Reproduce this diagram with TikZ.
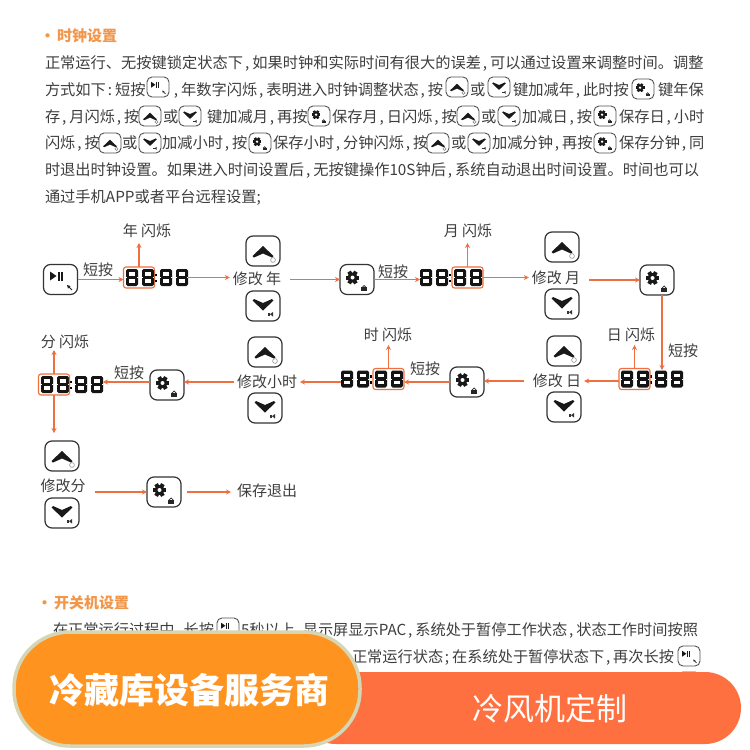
\documentclass[tikz,border=0pt]{standalone}
\usepackage{fontspec}
\setmainfont{Noto Sans CJK SC}
\usetikzlibrary{arrows.meta,calc}
\newcommand{\zc}{\hspace{1.8pt},\hspace{3pt}}
\newcommand{\zs}{\hspace{1.8pt};\hspace{3pt}}
\newcommand{\zm}{\hspace{1.8pt}:\hspace{3pt}}
\definecolor{txt}{HTML}{3E3E3E}
\definecolor{ora}{HTML}{F2964A}
\definecolor{conn}{HTML}{EE7040}
\definecolor{pillA}{HTML}{FF9320}
\definecolor{pillB}{HTML}{FF7040}
\definecolor{pillE}{HTML}{D6D6B4}
\definecolor{keyc}{HTML}{333333}
\tikzset{
  para/.style={inner sep=0pt,outer sep=0pt,text=txt,anchor=west,text height=12.5pt,text depth=1.5pt,font=\fontsize{15.25}{15}\selectfont},
  parb/.style={para,font=\fontsize{15.2}{15}\selectfont},
  head/.style={para,text=ora,font=\fontsize{15}{15}\selectfont\bfseries},
  lab/.style={inner sep=0pt,outer sep=0pt,text=txt,text height=12.5pt,text depth=1.5pt,font=\fontsize{15}{15}\selectfont},
  arr/.style={draw=conn,line width=1.2pt,-{Stealth[length=5pt,width=5pt]}},
  hl/.style={draw=conn,line width=1.1pt,rounded corners=2.5pt,inner sep=0pt,outer sep=0pt,minimum width=31pt,minimum height=21pt},
  dispbox/.style={inner sep=0pt,outer sep=0pt,minimum width=62pt,minimum height=17pt},
  keybig/.style={draw=keyc,line width=1.2pt,rounded corners=7pt,inner sep=0pt,outer sep=0pt,fill=white,minimum width=34pt,minimum height=30pt},
  keysmall/.style={draw=keyc!85,line width=.9pt,rounded corners=5pt,inner sep=0pt,outer sep=0pt,fill=white,minimum width=22pt,minimum height=20pt}
}
\newcommand{\glyphup}{%
  \fill[black!90] (0,-5) -- (10.5,5) -- (9,6.5) -- (0,2.5) -- (-9,6.5) -- (-10.5,5) -- cycle;
  \draw[black!50,line width=.5pt] (10,9) circle (2.4);}
\newcommand{\glyphdown}{%
  \fill[black!90] (-10.5,-5.5) -- (-9,-7) -- (0,-3) -- (9,-7) -- (10.5,-5.5) -- (0,4.5) -- cycle;
  \fill[black!80] (4.5,7) rectangle (7,9.5);
  \fill[black!80] (7,8.2) -- (10,6) -- (10,10.5) -- cycle;}
\newcommand{\glyphset}{%
  \begin{scope}[shift={(-4.5,-2)}]
  \foreach \a in {0,60,120}{\fill[black!90,rotate=\a] (-6.8,-2) rectangle (6.8,2);}
  \fill[black!90] (0,0) circle (5);
  \fill[white] (0,0) circle (2);
  \end{scope}
  \fill[black!85] (4.3,7.8) rectangle (10,11.5);
  \draw[black!85,line width=.7pt] (7.1,7.8) circle (1.9);}
\newcommand{\glyphplay}{%
  \fill[black!90] (-10.5,-8) -- (-4,-3.5) -- (-10.5,1) -- cycle;
  \fill[black!90] (-2.6,-8) rectangle (-.8,1);
  \fill[black!90] (.4,-8) rectangle (2.2,1);
  \fill[black!85] (6.5,5.5) -- (10,6.5) -- (7.5,9) -- cycle;
  \draw[black!85,line width=.8pt] (8.5,7.5) -- (11.5,10.5);}
\newcommand{\keybody}[5]{%
  \node[#5] (#1) at (#2,#3) {};
  \begin{scope}[shift={(#1.center)},scale=\keyscale]
  \csname glyph#4\endcsname
  \end{scope}}
\newcommand{\keyB}[4]{\def\keyscale{1}\keybody{#1}{#2}{#3}{#4}{keybig}}
\newcommand{\keyS}[4]{\def\keyscale{.65}\keybody{#1}{#2}{#3}{#4}{keysmall}}
\newcommand{\digit}[2]{%
  \fill[black!92,rounded corners=1.6pt] (#1,#2) rectangle ++(12,17);
  \fill[white] ($(#1,#2)+(3.4,3.2)$) rectangle ++(5.2,3.6);
  \fill[white] ($(#1,#2)+(3.4,10.2)$) rectangle ++(5.2,3.6);
  \fill[white] ($(#1,#2)+(0,8.1)$) rectangle ++(1.1,.8);
  \fill[white] ($(#1,#2)+(10.9,8.1)$) rectangle ++(1.1,.8);}
\newcommand{\disp}[3]{%
  \node[dispbox,anchor=north west] (#1) at (#2,#3) {};
  \digit{#2}{#3}
  \digit{#2+16}{#3}
  \fill[black] ($(#2,#3)+(28.6,4.5)$) rectangle ++(2.8,2.8);
  \fill[black] ($(#2,#3)+(28.6,10.5)$) rectangle ++(2.8,2.8);
  \digit{#2+34}{#3}
  \digit{#2+50}{#3}}
\begin{document}
\begin{tikzpicture}[x=1pt,y=-1pt]
\useasboundingbox (0,0) rectangle (750,750);
\fill[white] (0,0) rectangle (750,750);
% ---------- heading and paragraph ----------
\node[head] (h1d) at (40,36) {·};
\node[head] (h1) at (57,36) {时钟设置};
\node[para] (l1) at (45,63) {正常运行、无按键锁定状态下\zc{}如果时钟和实际时间有很大的误差\zc{}可以通过设置来调整时间。调整};
% line 2
\node[para] (l2a) at (45,90) {方式如下\zm{}短按};
\keyS{k2a}{158}{87}{play}
\node[para] (l2b) at (172,90) {\zc{}年数字闪烁\zc{}表明进入时钟调整状态\zc{}按};
\keyS{k2b}{457}{87}{up}
\node[para] (l2c) at (470,90) {或};
\keyS{k2c}{499}{87}{down}
\node[para] (l2d) at (513,90) {键加减年\zc{}此时按};
\keyS{k2d}{643}{89}{set}
\node[para] (l2e) at (658,90) {键年保};
% line 3
\node[para] (l3a) at (45,117) {存\zc{}月闪烁\zc{}按};
\keyS{k3a}{150}{116}{up}
\node[para] (l3b) at (163,117) {或};
\keyS{k3b}{190}{116}{down}
\node[para] (l3c) at (207,117) {键加减月\zc{}再按};
\keyS{k3c}{319}{116}{set}
\node[para] (l3d) at (332,117) {保存月\zc{}日闪烁\zc{}按};
\keyS{k3d}{468}{116}{up}
\node[para] (l3e) at (481,117) {或};
\keyS{k3e}{509}{116}{down}
\node[para] (l3f) at (522,117) {加减日\zc{}按};
\keyS{k3f}{605}{116}{set}
\node[para] (l3g) at (619,117) {保存日\zc{}小时};
% line 4
\node[para] (l4a) at (45,143) {闪烁\zc{}按};
\keyS{k4a}{110}{143}{up}
\node[para] (l4b) at (122,143) {或};
\keyS{k4b}{150}{143}{down}
\node[para] (l4c) at (162,143) {加减小时\zc{}按};
\keyS{k4c}{260}{143}{set}
\node[para] (l4d) at (273,143) {保存小时\zc{}分钟闪烁\zc{}按};
\keyS{k4d}{438}{143}{up}
\node[para] (l4e) at (451,143) {或};
\keyS{k4e}{479}{143}{down}
\node[para] (l4f) at (492,143) {加减分钟\zc{}再按};
\keyS{k4f}{605}{143}{set}
\node[para] (l4g) at (619,143) {保存分钟\zc{}同};
\node[para] (l5) at (45,170) {时退出时钟设置。如果进入时间设置后\zc{}无按键操作10S钟后\zc{}系统自动退出时间设置。时间也可以};
\node[para] (l6) at (45,197) {通过手机APP或者平台远程设置;};
% ---------- row 1 ----------
\keyB{play}{60.5}{279.5}{play}
\node[lab] (sa1) at (98,270) {短按};
\node[hl] (h1box) at (139,277.5) {};
\disp{d1}{126}{269}
\node[lab] (ya) at (147,231) {年 闪烁};
\node[lab] (ma) at (257,279) {修改 年};
\keyB{u1}{263}{251}{up}
\keyB{v1}{263}{306}{down}
\keyB{s1}{357}{279.5}{set}
\draw[arr] (play.east) -- (play.east -| h1box.west);
\draw[arr] (h1box.north) -- ([yshift=-5pt]h1box.north |- ya.south);
\draw[arr] (d1.east) -- ([xshift=-3pt]d1.east -| ma.west);
\draw[arr] ([xshift=9pt]ma.east |- s1.west) -- (s1.west);
\node[lab] (sa2) at (393,272) {短按};
\node[hl] (h2box) at (467.5,277.5) {};
\disp{d2}{420}{269}
\node[lab] (yb) at (468,231) {月 闪烁};
\node[lab] (mb) at (556,278) {修改 月};
\keyB{u2}{562}{247}{up}
\keyB{v2}{562}{304}{down}
\keyB{s2}{657}{280}{set}
\draw[arr] (s1.east) -- (s1.east -| d2.west);
\draw[arr] (h2box.north) -- ([yshift=-5pt]h2box.north |- yb.south);
\draw[arr] (h2box.east) -- ([xshift=-3pt]h2box.east -| mb.west);
\draw[arr] ([xshift=9pt]mb.east |- s2.west) -- (s2.west);
% ---------- row 2, right to left ----------
\node[lab] (sa3) at (683,351) {短按};
\disp{d3}{621}{370.5}
\node[hl] (h3box) at (634.5,379) {};
\node[lab] (yc) at (631,335) {日 闪烁};
\node[lab] (mc) at (557,381) {修改 日};
\keyB{u3}{564}{351}{up}
\keyB{v3}{564}{407}{down}
\keyB{s3}{467}{382}{set}
\coordinate (d3top) at (662,370);
\draw[arr] (s2.south -| d3top) -- (d3top);
\draw[arr] (h3box.north) -- ([yshift=-3pt]h3box.north |- yc.south);
\draw[arr] (h3box.west |- mc.east) -- ([xshift=3pt]mc.east);
\draw[arr] ([xshift=-9pt]mc.west) -- (mc.west -| s3.east);
\disp{d4}{341}{370.5}
\node[hl] (h4box) at (388.5,379) {};
\node[lab] (yd) at (388,335) {时 闪烁};
\node[lab] (sa4) at (425,369) {短按};
\node[lab] (md) at (267,382) {修改小时};
\keyB{u4}{265}{352}{up}
\keyB{v4}{265}{408}{down}
\keyB{s4}{167}{385}{set}
\draw[arr] (s3.west) -- (s3.west -| h4box.east);
\draw[arr] (h4box.north) -- ([yshift=-3pt]h4box.north |- yd.south);
\draw[arr] (d4.west |- md.east) -- ([xshift=3pt]md.east);
\draw[arr] ([xshift=-3pt]md.west) -- (md.west -| s4.east);
\disp{d5}{41}{376}
\node[hl] (h5box) at (54,384.5) {};
\node[lab] (ye) at (65,342) {分 闪烁};
\node[lab] (sa5) at (129,373) {短按};
\draw[arr] (s4.west |- md.west) -- (md.west -| d5.east);
\draw[arr] (h5box.north) -- ([yshift=-1pt]h5box.north |- ye.south);
% ---------- row 3 ----------
\keyB{u5}{62}{456}{up}
\keyB{v5}{62}{513}{down}
\node[lab] (me) at (63,486) {修改分};
\keyB{s5}{164}{492}{set}
\node[lab] (ex) at (267,491) {保存退出};
\draw[arr] (h5box.south) -- ([yshift=8pt]h5box.south |- u5.north);
\draw[arr] ([xshift=9pt]me.east |- s5.west) -- (s5.west);
\draw[arr] ([xshift=6pt]s5.east) -- ([xshift=-6pt]s5.east -| ex.west);
% ---------- second section ----------
\node[head] (h2d) at (37,603) {·};
\node[head] (h2) at (54,603) {开关机设置};
\node[parb] (b1a) at (53,630) {在正常运行过程中\zc{}长按};
\keyS{kb1}{228}{628}{play}
\node[parb] (b1b) at (241,630) {5秒以上\zc};
\node[parb,anchor=east] (b1c) at (698,630) {显示屏显示PAC\zc{}系统处于暂停工作状态\zc{}状态工作时间按照};
\node[parb] (b2a) at (352,657) {正常运行状态\zs{}在系统处于暂停状态下\zc{}再次长按};
\keyS{kb2}{689}{656}{play}
\keyS{kb3}{689}{682}{play}
% ---------- pills ----------
\node[fill=pillB,rounded corners=36pt,minimum width=441pt,minimum height=72pt,inner sep=0pt] (pb) at (520.5,708) {};
\node[inner sep=0pt,text=white,font=\fontsize{31}{31}\selectfont] (pbt) at (550,709) {冷风机定制};
\node[fill=pillA,draw=pillE,line width=3.5pt,rounded corners=56pt,minimum width=346pt,minimum height=114pt,inner sep=0pt] (pa) at (187,689) {};
\node[inner sep=0pt,text=white,font=\fontsize{35}{35}\selectfont\bfseries] (pat) at (189,690) {冷藏库设备服务商};
\end{tikzpicture}
\end{document}
